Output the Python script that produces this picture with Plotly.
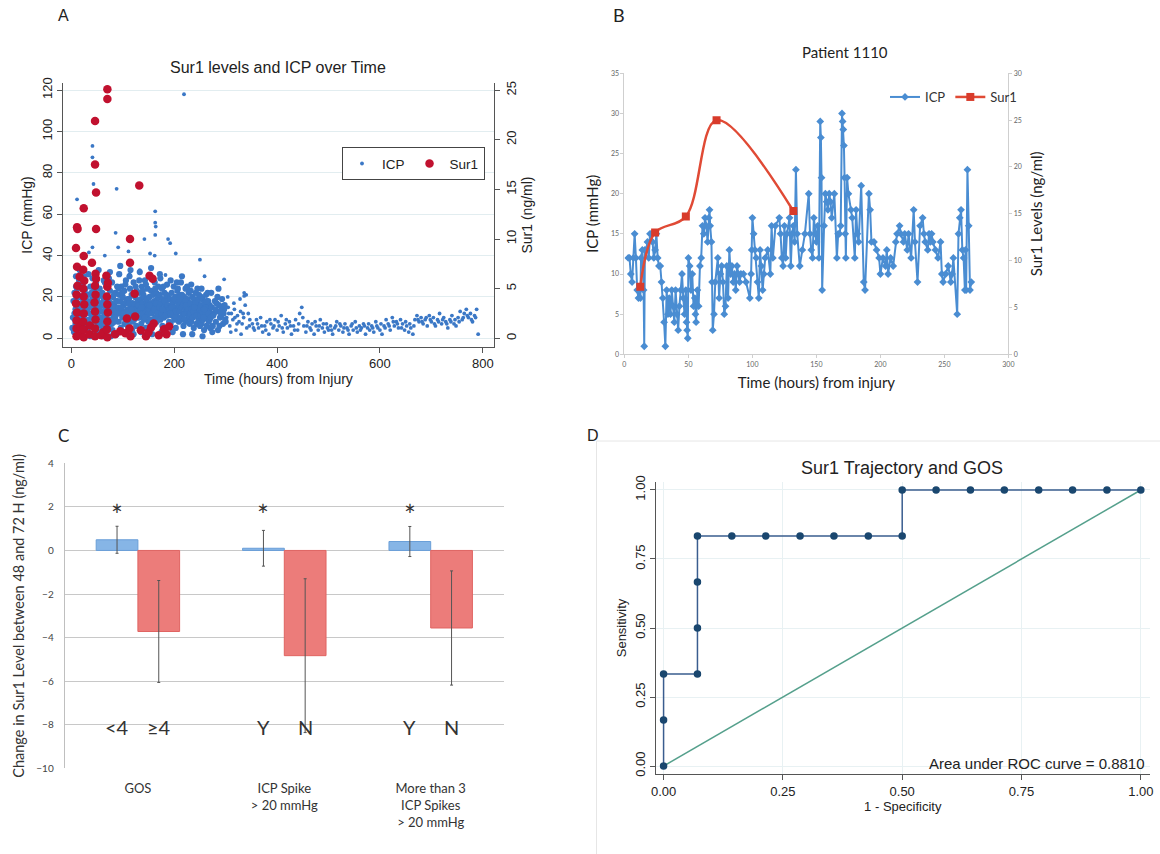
import plotly.graph_objects as go

W, H = 1160, 854
def px(x): return x / W
def py(y): return 1 - y / H

STATA = "Liberation Sans, Arial, sans-serif"
EXCEL = "Lato, 'Open Sans', sans-serif"

# ---------------- Panel A data: (hours, value) ----------------
icp_a_core = [
    (2,5),(3,10),(4,18),
    (5,3),(6,12),(7,18),(8,7),(9,25),(10,1),(11,15),(12,9),(13,21),(14,5),(15,28),(6,22),(8,14),(10,19),(12,2),(14,11),(9,30),(7,9),(13,16),(11,24),
    (16,6),(17,13),(18,20),(19,3),(20,17),(21,10),(22,26),(23,8),(24,14),(25,1),(26,22),(27,12),(28,5),(29,18),(17,27),(19,9),(21,15),(23,19),(25,11),(27,24),(29,7),(20,2),(24,30),(28,16),(16,33),
    (31,14),(32,4),(33,21),(34,9),(35,17),(36,12),(37,25),(38,6),(39,15),(40,10),(41,19),(42,2),(43,13),(44,23),(45,8),(46,16),(47,11),(48,27),(49,5),(50,18),(33,31),(37,1),(41,29),(45,20),(49,13),(35,7),(39,22),(43,16),(47,3),(32,18),
    (51,12),(52,20),(53,7),(54,15),(55,24),(56,10),(57,3),(58,17),(59,13),(60,22),(61,8),(62,16),(63,28),(64,11),(65,5),(66,19),(67,14),(68,25),(69,9),(70,18),(53,33),(57,21),(61,1),(65,27),(69,15),(55,14),(59,6),(63,19),(67,10),(70,30),
    (71,12),(72,19),(73,6),(74,15),(75,23),(76,9),(77,17),(78,13),(79,27),(80,4),(81,20),(82,11),(83,16),(84,8),(85,22),(86,14),(87,18),(88,2),(89,25),(90,12),(73,29),(77,1),(81,15),(85,10),(89,18),(75,32),(79,7),(83,21),(87,13),(72,16),
    (91,15),(92,8),(93,21),(94,12),(95,18),(96,5),(97,25),(98,14),(99,10),(100,20),(101,16),(102,3),(103,23),(104,11),(105,17),(106,28),(107,9),(108,13),(109,19),(110,6),(93,31),(97,15),(101,12),(105,26),(109,14),(95,35),(99,22),(103,7),(107,18),(92,24),
    (111,13),(112,19),(113,8),(114,24),(115,15),(116,11),(117,21),(118,4),(119,17),(120,12),(121,27),(122,9),(123,16),(124,20),(125,14),(126,6),(127,23),(128,10),(129,18),(130,13),(113,30),(117,14),(121,2),(125,25),(129,16),(115,33),(119,8),(123,22),(127,12),(112,17),
    (131,16),(132,10),(133,22),(134,14),(135,19),(136,7),(137,25),(138,12),(139,17),(140,21),(141,9),(142,15),(143,28),(144,13),(145,5),(146,18),(147,11),(148,24),(149,16),(150,8),(133,32),(137,15),(141,20),(145,26),(149,12),(135,3),(139,23),(143,10),(147,19),(132,28),
    (151,14),(152,20),(153,9),(154,17),(155,23),(156,12),(157,16),(158,6),(159,21),(160,13),(161,18),(162,27),(163,10),(164,15),(165,22),(166,8),(167,19),(168,13),(169,25),(170,11),(153,30),(157,2),(161,14),(165,17),(169,20),(155,34),(159,9),(163,24),(167,12),(152,16),
    (171,15),(172,21),(173,9),(174,17),(175,12),(176,24),(177,6),(178,19),(179,14),(180,10),(181,22),(182,16),(183,4),(184,18),(185,13),(186,26),(187,11),(188,20),(189,15),(190,8),(173,29),(177,14),(181,18),(185,21),(189,12),(175,3),(179,25),(183,11),(187,16),(172,31),
    (191,14),(192,19),(193,7),(194,16),(195,22),(196,11),(197,17),(198,13),(199,25),(200,9),(201,15),(202,20),(203,5),(204,12),(205,18),(206,23),(207,10),(208,16),(209,14),(210,21),(193,28),(197,3),(201,11),(205,27),(209,8),(195,15),(199,19),(203,13),(207,24),(192,12),
    (211,13),(212,18),(213,9),(214,15),(215,21),(216,11),(217,16),(218,6),(219,20),(220,12),(221,14),(222,24),(223,8),(224,17),(225,13),(226,19),(227,10),(228,22),(229,15),(230,7),(213,27),(217,2),(221,18),(225,25),(229,11),(215,30),(219,9),(223,16),(227,14),(212,20),
    (231,12),(232,17),(233,8),(234,14),(235,20),(236,10),(237,15),(238,5),(239,19),(240,11),(241,13),(242,22),(243,7),(244,16),(245,12),(246,18),(247,9),(248,21),(249,14),(250,6),(233,26),(237,13),(241,17),(245,24),(249,10),(235,2),(239,15),(243,11),(247,19),(232,23),
    (251,11),(252,16),(253,7),(254,13),(255,19),(256,9),(257,14),(258,4),(259,17),(260,10),(261,12),(262,21),(263,6),(264,15),(265,11),(266,18),(267,8),(268,13),(269,16),(270,5),(253,24),(257,10),(261,15),(265,22),(269,9),(255,1),(259,14),(263,18),(267,12),(252,20),
    (271,10),(273,15),(275,6),(277,12),(279,18),(281,8),(283,13),(285,4),(287,16),(289,10),(291,11),(293,19),(295,7),(297,14),(299,9),(272,22),(276,11),(280,14),(284,20),(288,6),(292,15),(296,12),(300,8),(274,3),(282,17),(290,13),(298,16),(286,24),
]
icp_a_tail = [
    (302,10),(305,15),(308,6),(311,12),(314,9),(317,14),(320,4),(323,11),(326,8),(329,13),(332,7),(335,10),(338,16),(341,5),(344,12),(347,9),(304,20),(310,3),(316,17),(322,7),(328,19),(334,12),(340,21),(346,6),(336,22),(330,2),(306,12),(318,10),
    (352,7),(356,4),(360,9),(364,5),(368,10),(372,3),(376,6),(380,8),(384,2),(388,7),(392,5),(396,9),(400,4),(404,6),(408,11),(412,3),(416,7),(420,5),(424,8),(428,2),(432,6),(436,9),(440,4),(444,12),(448,15),(452,6),(456,3),(460,8),(464,5),(468,7),(472,2),(476,6),(480,4),(484,9),(488,5),(492,3),(496,7),(500,4),(504,6),(508,2),(512,5),(516,8),(520,4),(524,6),(528,3),(532,7),(536,5),(540,2),(544,6),(548,4),(552,8),(556,3),(560,6),(564,5),(568,7),(572,2),(576,5),(580,4),(584,6),(588,3),(592,8),(596,5),(600,4),(604,2),(608,6),(612,9),(616,7),(620,4),(624,10),(628,6),(632,8),(636,5),(640,9),(644,7),(648,4),(652,6),(656,3),(660,5),(664,2),(668,9),(672,11),(676,8),(680,10),(684,7),(688,9),(692,6),(696,11),(700,8),(704,10),(708,6),(712,9),(716,12),(720,7),(724,10),(728,8),(732,5),(736,9),(740,11),(744,7),(748,6),(752,10),(756,13),(760,9),(764,12),(768,14),(772,10),(776,12),(780,8),(784,11),(788,14),(791,2),
    (354,5),(362,7),(370,6),(378,4),(386,9),(394,6),(402,8),(410,5),(418,9),(426,6),(434,4),(442,7),(450,10),(458,6),(466,4),(474,8),(482,6),(490,7),(498,5),(506,4),(514,6),(522,7),(530,5),(538,4),(546,7),(554,5),(562,4),(570,6),(578,7),(586,5),(594,6),(602,7),(610,5),(618,6),(626,8),(634,7),(642,5),(650,8),(658,7),(666,6),(674,9),(682,8),(690,10),(698,9),(706,7),(714,8),(722,9),(730,7),(738,8),(746,9),(754,8),(762,10),(770,11),(778,9),(786,10),
]
icp_a_high = [
    (219,118),(41,93),(41,87.5),(43,74.6),(88,72.3),(11,67.2),(163,61.4),(163,55.9),(164,54),(163,50),
    (86,51),(188,48),(192,46),(203,41),(250,38),(142,48),(91,44),(111,42),(65,40),(41,44),(153,41),
    (162,40),(259,30),(297,28.5),(336,20.5),(113,31),(133,33),(183,30.6),(34,41.5),
]
sur1_a_points = [
    (70,25.1),(70,24.1),(46,21.9),(46,17.5),(48,14.7),(132,15.4),(24,13.1),(11,11.2),(12,11.0),(48,11.0),
    (114,10.0),(9,9.1),(24,8.3),(40,7.6),(114,7.6),(11,7.2),(16,6.2),(23,6.9),(47,6.5),(68,6.3),(152,6.3),
    (158,6.0),(70,5.2),(123,4.5),(124,2.2),(108,2.0),(160,1.5),
    (10,0.2),(10,1.0),(10,1.8),(11,2.6),(9,3.5),(10,4.4),(12,5.3),(18,0.3),(18,1.2),
    (24,0.1),(24,0.9),(23,1.7),(24,2.5),(25,3.4),(24,4.2),(23,5.0),(25,5.8),(35,0.4),(36,1.3),
    (46,0.2),(46,1.0),(47,1.9),(46,2.7),(45,3.6),(47,4.4),(46,5.3),(48,6.0),(58,0.3),(62,0.6),
    (70,0.1),(69,0.9),(70,1.7),(71,2.6),(70,3.4),(69,4.2),(71,5.6),
    (85,0.4),(95,0.7),(105,0.5),(115,0.2),(113,1.0),(135,0.8),(145,0.2),(150,0.6),(155,1.1),
    (170,0.3),(180,0.9),(185,0.4),(190,1.2),
]

# ---------------- Panel B data ----------------
icp_b_points = [
    (3,12),(4,12),(5,10),(6,9),(7,12),(8,15),(9,12),(10,8),(11,7),(12,8),(12.5,7),(13,12),(14,13),(15,8),(15.5,1),(16,13),
    (17,13),(18,14),(19,12),(20,15),(21,15),(22,14),(23,12),(24,13),(25,15),(26,12),(27,11),
    (28,11),(29,9),(30,7),(31,4),(32,1),
    (33,8),(34,5),(35,7),(36,5),(37,8),(38,6),(39,4),(40,8),(41,5),(42,3),(43,6),(44,8),(45,10),(46,7),(47,5),(48,8),(48.5,4),(49,3),(49.5,2),
    (50,12),(51,11),(52,8),(53,10),(54,6),(55,7),(55.5,5),(56,4),(57,8),(58,6),
    (59,11),(60,12),(61,16),(62,15),(63,17),(64,16),(65,14),(66,17),(66.5,18),(67,16),(68,14),
    (68.5,9),(69,3),(70,5),(71,9),(73,12),
    (74,7),(75,10),(76,11),(77,9),(78,5),(79,6),(80,11),(81,7),(82,13),(83,10),(84,11),(85,9),(86,10),(87,8),(88,11),(89,10),(90,9),(91,10),
    (93,10),(95,9),(98,7),(99,10),(99.5,13),(100,17),
    (101,15),(102,13),(103,12),(104,9),(105,7),(106,13),(107,11),(108,8),(109,10),(110,12),(112,13),(114,10),(115,16),
    (116,12),(118,16),(121,17),(122,15),(123,12),(124,11),(125,16),(126,12),(127,15),(129,17),(130,11),(131,15),(132,16),(133,14),
    (134,23),(135,15),(137,11),(139,13),(141,15),(144,20),(145,15),(146,13),(147,12),(148,17),(149,15),(150,14),(151,16),(152,12),
    (153,29),(153.5,27),(154,22),(154.5,8),
    (156,16),(157,20),(158,19),(159,18),(160,20),(161,19),(162,17),(164,20),(166,12),(167,15),
    (168,15),(169,16),(170,30),(170.5,29),(171,28),(171.5,26),(172,22),(172.5,15),(173,12),
    (174,22),(175,20),(177,18),(178,17),(180,12),(181,18),(182,15),(183,14),(185,21),
    (187,9),(188,8),(191,20),(192,18),(193,14),(195,14),
    (197,13),(199,12),(200,10),(202,12),(204,11),(205,13),(206,10),(208,12),(210,11),
    (212,14),(213,15),(215,16),(216,15),(218,14),(219,15),(221,13),(222,15),(224,12),
    (226,18),(227,14),(229,9),
    (231,16),(233,17),(234,15),(235,14),(237,13),(238,15),(239,14),(240,15),(241,14),
    (243,13),(245,12),(247,14),(248,10),(249,9),(251,10),(253,11),
    (255,9),(256,10),(257,12),(260,5),
    (261,15),(262,17),(263,18),(264,13),(265,12),(266,8),(266.5,13),(267,8),(268,23),(269,16),(270,8),(271,9),
]
sur1_b_hours = [12.4, 24, 48, 72, 132]
sur1_b_levels = [7.2, 13.0, 14.7, 25.0, 15.3]

# ---------------- Panel C data ----------------
groups = ["GOS", "ICP Spike<br>> 20 mmHg", "More than 3<br>ICP Spikes<br>> 20 mmHg"]
blue_vals = [0.49, 0.10, 0.41]
blue_err = [0.62, 0.82, 0.69]
red_vals = [-3.72, -4.83, -3.56]
red_err = [2.34, 3.53, 2.62]
blue_labels = ["<4", "Y", "Y"]
red_labels = ["≥4", "N", "N"]
star_level = 2.1
label_level = -8.1

# ---------------- Panel D data ----------------
roc_fpr = [0, 0, 0, 0.071, 0.071, 0.071, 0.071, 0.143, 0.214, 0.286, 0.357, 0.429, 0.5, 0.5,
           0.571, 0.643, 0.714, 0.786, 0.857, 0.929, 1.0]
roc_sens = [0, 0.167, 0.333, 0.333, 0.5, 0.667, 0.833, 0.833, 0.833, 0.833, 0.833, 0.833, 0.833, 1.0,
            1.0, 1.0, 1.0, 1.0, 1.0, 1.0, 1.0]
ref_x = [0, 1]
ref_y = [0, 1]
auc_text = "Area under ROC curve = 0.8810"

ICP_BLUE = "#3b78c6"
fig = go.Figure()

# Panel A
sparse = icp_a_tail + icp_a_high
fig.add_trace(go.Scatter(
    x=[p[0] for p in sparse], y=[p[1] for p in sparse],
    mode="markers", name="ICP", legendgroup="icp", marker=dict(size=3.8, color=ICP_BLUE),
    xaxis="x", yaxis="y", legend="legend"))
fig.add_trace(go.Scatter(
    x=[p[0] for p in icp_a_core], y=[p[1] for p in icp_a_core],
    mode="markers", name="ICP", legendgroup="icp", showlegend=False,
    marker=dict(size=6.2, color=ICP_BLUE), xaxis="x", yaxis="y"))
fig.add_trace(go.Scatter(
    x=[p[0] for p in sur1_a_points], y=[p[1] for p in sur1_a_points],
    mode="markers", name="Sur1", marker=dict(size=8.5, color="#c1112f"),
    xaxis="x", yaxis="y2", legend="legend"))

# Panel B
fig.add_trace(go.Scatter(
    x=[p[0] for p in icp_b_points], y=[p[1] for p in icp_b_points],
    mode="lines+markers", name="ICP",
    line=dict(color="#4a8dd2", width=2), marker=dict(symbol="diamond", size=6, color="#4a8dd2"),
    xaxis="x2", yaxis="y3", legend="legend2"))
fig.add_trace(go.Scatter(
    x=sur1_b_hours, y=sur1_b_levels, mode="lines+markers", name="Sur1",
    line=dict(color="#e04a35", width=2.5, shape="spline", smoothing=1.0),
    marker=dict(symbol="square", size=8, color="#d83b2b"),
    xaxis="x2", yaxis="y4", legend="legend2"))

# Panel C
bargap = 0.43
fig.add_trace(go.Bar(
    x=groups, y=blue_vals, marker=dict(color="#86b5e6", line=dict(color="#6a9fd8", width=1)),
    error_y=dict(type="data", array=blue_err, color="#555555", thickness=1, width=1.5),
    xaxis="x3", yaxis="y5", showlegend=False, name="lower"))
fig.add_trace(go.Bar(
    x=groups, y=red_vals, marker=dict(color="#ec7c7a", line=dict(color="#e06462", width=1)),
    error_y=dict(type="data", array=red_err, color="#555555", thickness=1, width=1.5),
    xaxis="x3", yaxis="y5", showlegend=False, name="higher"))

# Panel D
fig.add_trace(go.Scatter(
    x=ref_x, y=ref_y, mode="lines", line=dict(color="#55a08c", width=1.5),
    xaxis="x4", yaxis="y6", showlegend=False))
fig.add_trace(go.Scatter(
    x=roc_fpr, y=roc_sens, mode="lines+markers", line=dict(color="#3a5d8f", width=1.5),
    marker=dict(size=7.5, color="#1a476f"), xaxis="x4", yaxis="y6", showlegend=False))

stata_tick = dict(size=13, color="#222", family=STATA)
excel_tick = dict(size=7, color="#666", family=EXCEL)

annotations = []
def note(text, x, y, size, family, color="#222", xanchor="center", yanchor="middle", xref="paper", yref="paper"):
    annotations.append(dict(text=text, x=x, y=y, xref=xref, yref=yref, showarrow=False,
                            xanchor=xanchor, yanchor=yanchor, font=dict(size=size, family=family, color=color)))

note("A", px(63), py(15), 16, STATA, xanchor="center")
note("B", px(619), py(15), 18, EXCEL, xanchor="center")
note("C", px(63), py(435), 17, EXCEL, xanchor="center")
note("D", px(593), py(435), 16, STATA, xanchor="center")
note("Sur1 levels and ICP over Time", px(277.5), py(68), 16, STATA)
note("Patient 1110", px(844.5), py(52), 15, EXCEL, color="#222")
note("Sur1 Trajectory and GOS", px(902), py(468), 18, STATA)
note(auc_text, px(1147), py(763), 15, STATA, xanchor="right")

barw = (1 - bargap) / 2
for i in range(len(groups)):
    note("*", i - barw / 2, star_level - 0.45, 28, EXCEL, color="#333", xref="x3", yref="y5")
    note(blue_labels[i], i - barw / 2, label_level, 20, EXCEL, color="#333", xref="x3", yref="y5")
    note(red_labels[i], i + barw / 2, label_level, 20, EXCEL, color="#333", xref="x3", yref="y5")

shapes = [
    dict(type="line", xref="paper", yref="paper", x0=px(596.5), x1=px(596.5), y0=py(441), y1=0,
         line=dict(color="#e6e6e6", width=1)),
    dict(type="line", xref="paper", yref="paper", x0=px(596.5), x1=1, y0=py(441), y1=py(441),
         line=dict(color="#e6e6e6", width=1)),
]

fig.update_layout(
    width=W, height=H, autosize=False,
    margin=dict(l=0, r=0, t=0, b=0),
    paper_bgcolor="white", plot_bgcolor="white",
    barmode="group", bargap=bargap, bargroupgap=0,
    annotations=annotations, shapes=shapes,
    legend=dict(x=px(485), y=py(147), xanchor="right", yanchor="top", orientation="h",
                bordercolor="#444", borderwidth=1.2, bgcolor="white", itemwidth=30,
                font=dict(size=13.5, family=STATA, color="#222")),
    legend2=dict(x=px(885), y=py(97), xanchor="left", yanchor="middle", orientation="h",
                 bgcolor="rgba(0,0,0,0)", itemwidth=30,
                 font=dict(size=13, family=EXCEL, color="#333")),
    # Panel A axes
    xaxis=dict(domain=[px(62.9), px(494)], range=[-16.5, 821.8], anchor="y",
               tickvals=[0, 200, 400, 600, 800], ticks="outside", ticklen=5, tickcolor="#555",
               showline=True, linecolor="#555", showgrid=False, zeroline=False, tickfont=stata_tick,
               title=dict(text="Time (hours) from Injury", standoff=3, font=dict(size=14, family=STATA, color="#222")),
               automargin=False),
    yaxis=dict(domain=[py(346.7), py(83.3)], range=[-4.06, 123.3], anchor="x",
               tickvals=[0, 20, 40, 60, 80, 100, 120], tickangle=-90, ticks="outside", ticklen=5,
               tickcolor="#555", showline=True, linecolor="#555", showgrid=True, gridcolor="#e2edf0",
               zeroline=False, tickfont=stata_tick,
               title=dict(text="ICP (mmHg)", standoff=3, font=dict(size=14, family=STATA, color="#222")),
               automargin=False),
    yaxis2=dict(overlaying="y", side="right", anchor="x", range=[-0.846, 25.69],
                tickvals=[0, 5, 10, 15, 20, 25], tickangle=-90, ticks="outside", ticklen=5,
                tickcolor="#555", showline=True, linecolor="#555", showgrid=False, zeroline=False,
                tickfont=stata_tick,
                title=dict(text="Sur1 (ng/ml)", standoff=3, font=dict(size=14, family=STATA, color="#222")),
                automargin=False),
    # Panel B axes
    xaxis2=dict(domain=[px(624.4), px(1008.4)], range=[0, 300], anchor="y3", dtick=50,
                ticks="outside", ticklen=3, tickcolor="#cfcfcf", showline=True, linecolor="#cfcfcf",
                showgrid=False, zeroline=False, tickfont=excel_tick,
                title=dict(text="Time (hours) from injury", standoff=10, font=dict(size=15, family=EXCEL, color="#222")),
                automargin=False),
    yaxis3=dict(domain=[py(354.3), py(73.3)], range=[0, 35], anchor="x2", dtick=5,
                ticks="outside", ticklen=3, tickcolor="#cfcfcf", showline=True, linecolor="#cfcfcf",
                showgrid=False, zeroline=False, tickfont=excel_tick,
                title=dict(text="ICP (mmHg)", standoff=8, font=dict(size=15, family=EXCEL, color="#222")),
                automargin=False),
    yaxis4=dict(overlaying="y3", side="right", anchor="x2", range=[0, 30], dtick=5,
                ticks="outside", ticklen=3, tickcolor="#cfcfcf", showline=True, linecolor="#cfcfcf",
                showgrid=False, zeroline=False, tickfont=excel_tick,
                title=dict(text="Sur1 Levels (ng/ml)", standoff=10, font=dict(size=15, family=EXCEL, color="#222")),
                automargin=False),
    # Panel C axes
    xaxis3=dict(domain=[px(64.7), px(503.9)], anchor="y5", type="category",
                showgrid=False, showline=False, zeroline=False, ticks="outside", ticklen=8,
                tickcolor="rgba(0,0,0,0)", tickfont=dict(size=13, family=EXCEL, color="#333"),
                automargin=False),
    yaxis5=dict(domain=[py(768.3), py(463.3)], range=[-10, 4], anchor="x3", dtick=2,
                showgrid=True, gridcolor="#c8c8c8", showline=True, linecolor="#bfbfbf",
                zeroline=False, ticks="outside", ticklen=8, tickcolor="rgba(0,0,0,0)",
                tickfont=dict(size=10, family=EXCEL, color="#444"),
                title=dict(text="Change in Sur1 Level between 48 and 72 H (ng/ml)", standoff=8,
                           font=dict(size=14.5, family=EXCEL, color="#333")),
                automargin=False),
    # Panel D axes
    xaxis4=dict(domain=[px(655.8), px(1149.7)], range=[-0.0163, 1.0186], anchor="y6",
                tickvals=[0, 0.25, 0.5, 0.75, 1.0], tickformat=".2f", ticks="outside", ticklen=5,
                tickcolor="#555", showline=True, linecolor="#555", showgrid=True, gridcolor="#e8f1f3",
                zeroline=False, tickfont=stata_tick,
                title=dict(text="1 - Specificity", standoff=3, font=dict(size=13, family=STATA, color="#222")),
                automargin=False),
    yaxis6=dict(domain=[py(774.3), py(481.7)], range=[-0.03, 1.03], anchor="x4",
                tickvals=[0, 0.25, 0.5, 0.75, 1.0], tickformat=".2f", tickangle=-90, ticks="outside",
                ticklen=5, tickcolor="#555", showline=True, linecolor="#555", showgrid=True,
                gridcolor="#e8f1f3", zeroline=False, tickfont=stata_tick,
                title=dict(text="Sensitivity", standoff=3, font=dict(size=13, family=STATA, color="#222")),
                automargin=False),
)

fig.write_html("out.html", config={"displayModeBar": False},
               post_script="document.body.style.margin='0';document.body.style.overflow='hidden';")
